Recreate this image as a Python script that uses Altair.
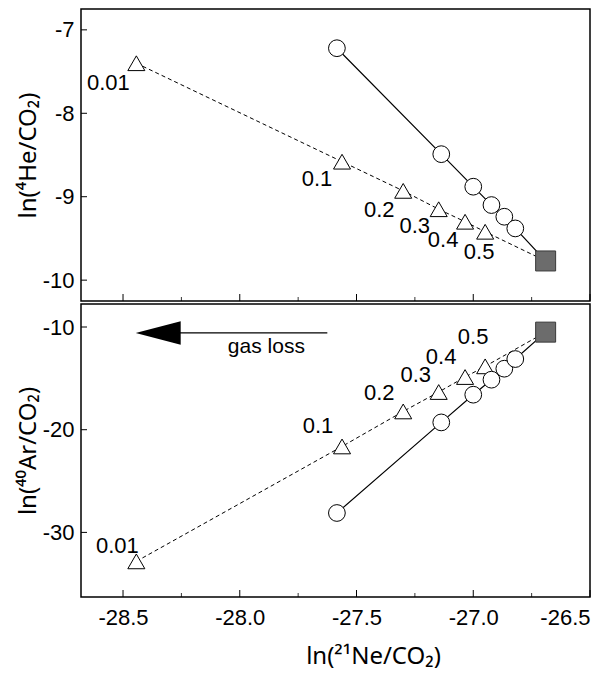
import altair as alt
import pandas as pd

# ---------------- data ----------------
labels = ["0.01", "0.1", "0.2", "0.3", "0.4", "0.5"]
tri_ne = [-28.443, -27.562, -27.300, -27.148, -27.035, -26.949]
circ_ne = [-27.584, -27.137, -27.000, -26.922, -26.867, -26.820]
sq_ne = -26.690

tri_he = [-7.40, -8.58, -8.93, -9.15, -9.30, -9.42]
circ_he = [-7.22, -8.49, -8.88, -9.10, -9.24, -9.38]
sq_he = -9.77

tri_ar = [-32.82, -21.63, -18.22, -16.33, -14.87, -13.83]
circ_ar = [-28.11, -19.29, -16.59, -15.13, -14.06, -13.12]
sq_ar = -10.50

x_major = [-28.5, -28.0, -27.5, -27.0, -26.5]
x_minor = [-28.25, -27.75, -27.25, -26.75]
he_ticks = [-7, -8, -9, -10]
ar_ticks = [-10, -20, -30]

arrow_ne = [-28.257, -27.625]   # shaft start / end
arrowhead_ne = -28.343
arrow_ar = -10.58
gasloss_ne = -27.886
gasloss_ar = -11.95

X_DOMAIN = [-28.68, -26.5]
HE_DOMAIN = [-10.25, -6.75]
AR_DOMAIN = [-36.29, -7.76]

W = 509
H1 = 292
H2 = 293
FONT = "Liberation Sans"
TFONT = "Noto Sans"
HYPHEN = "replace(datum.label, '\u2212', '-')"

# label offsets (style)
top_off = [(-28, 20), (-25, 17), (-24, 19), (-24, 17), (-22, 18), (-6, 20)]
bot_off = [(-19, -15), (-24, -20), (-24, -18), (-23, -17), (-24, -20), (-12, -29)]


def panel(yvals_tri, yvals_circ, ysq, ydomain, yticks, ytitle, height, offsets, show_x):
    xs = alt.Scale(domain=X_DOMAIN, nice=False, zero=False)
    ys = alt.Scale(domain=ydomain, nice=False, zero=False)
    if show_x:
        xaxis = alt.Axis(title="ln(²¹Ne/CO₂)", values=x_major, format=".1f", ticks=False,
                         domain=False, grid=False, labelPadding=10, titlePadding=16,
                         titleX=292, titleAlign="center", labelExpr=HYPHEN)
    else:
        xaxis = alt.Axis(title=None, labels=False, ticks=False, domain=False, grid=False)
    yaxis = alt.Axis(title=ytitle, values=yticks, format="d", ticks=False, domain=False,
                     grid=False, labelPadding=7, titlePadding=2, labelExpr=HYPHEN)

    tri_line_df = pd.DataFrame({"x": tri_ne + [sq_ne], "y": yvals_tri + [ysq],
                                "o": list(range(len(tri_ne) + 1))})
    circ_line_df = pd.DataFrame({"x": circ_ne + [sq_ne], "y": yvals_circ + [ysq],
                                 "o": list(range(len(circ_ne) + 1))})
    tri_df = pd.DataFrame({"x": tri_ne, "y": yvals_tri, "lab": labels})
    circ_df = pd.DataFrame({"x": circ_ne, "y": yvals_circ})
    sq_df = pd.DataFrame({"x": [sq_ne], "y": [ysq]})

    base_x = alt.X("x:Q", scale=xs, axis=xaxis)
    base_y = alt.Y("y:Q", scale=ys, axis=yaxis)

    dashed = alt.Chart(tri_line_df).mark_line(color="black", strokeWidth=1,
                                              strokeDash=[4, 3]).encode(
        x=base_x, y=base_y, order="o:Q")
    solid = alt.Chart(circ_line_df).mark_line(color="black", strokeWidth=1.2).encode(
        x="x:Q", y="y:Q", order="o:Q")
    tris = alt.Chart(tri_df).mark_point(shape="triangle-up", filled=True, fill="white",
                                        stroke="black", strokeWidth=1, opacity=1,
                                        size=290).encode(x="x:Q", y="y:Q")
    circs = alt.Chart(circ_df).mark_point(shape="circle", filled=True, fill="white",
                                          stroke="black", strokeWidth=1, opacity=1,
                                          size=280).encode(x="x:Q", y="y:Q")
    sq = alt.Chart(sq_df).mark_point(shape="square", filled=True, fill="#6c6c6c",
                                     stroke="#3a3a3a", strokeWidth=1, opacity=1,
                                     size=400).encode(x="x:Q", y="y:Q")

    layers = [dashed, solid, tris, circs, sq]

    for i, lab in enumerate(labels):
        dx, dy = offsets[i]
        ldf = pd.DataFrame({"x": [tri_ne[i]], "y": [yvals_tri[i]], "lab": [lab]})
        layers.append(alt.Chart(ldf).mark_text(font=FONT, fontSize=22, color="black",
                                               align="center", baseline="middle",
                                               dx=dx, dy=dy).encode(
            x="x:Q", y="y:Q", text="lab:N"))

    # inward ticks
    xmaj = pd.DataFrame({"x": x_major})
    xmin = pd.DataFrame({"x": x_minor})
    ytk = pd.DataFrame({"y": yticks})
    layers.append(alt.Chart(xmaj).mark_rule(color="black", strokeWidth=1).encode(
        x="x:Q", y=alt.value(height), y2=alt.value(height - 7)))
    layers.append(alt.Chart(xmin).mark_rule(color="black", strokeWidth=0.8).encode(
        x="x:Q", y=alt.value(height), y2=alt.value(height - 4)))
    layers.append(alt.Chart(ytk).mark_rule(color="black", strokeWidth=1).encode(
        y="y:Q", x=alt.value(0), x2=alt.value(6)))

    return layers


top_layers = panel(tri_he, circ_he, sq_he, HE_DOMAIN, he_ticks, "ln(⁴He/CO₂)", H1,
                   top_off, False)
bot_layers = panel(tri_ar, circ_ar, sq_ar, AR_DOMAIN, ar_ticks, "ln(⁴⁰Ar/CO₂)", H2,
                   bot_off, True)

# gas loss arrow
shaft_df = pd.DataFrame({"x": [arrow_ne[0]], "x2": [arrow_ne[1]], "y": [arrow_ar]})
head_df = pd.DataFrame({"x": [arrowhead_ne], "y": [arrow_ar]})
txt_df = pd.DataFrame({"x": [gasloss_ne], "y": [gasloss_ar], "t": ["gas loss"]})
bot_layers.append(alt.Chart(shaft_df).mark_rule(color="black", strokeWidth=1.3).encode(
    x="x:Q", x2="x2:Q", y="y:Q"))
bot_layers.append(alt.Chart(head_df).mark_point(
    shape="M-1,0L1,-0.525L1,0.525Z", filled=True, fill="black", stroke="black",
    opacity=1, size=1600).encode(x="x:Q", y="y:Q"))
bot_layers.append(alt.Chart(txt_df).mark_text(font=FONT, fontSize=21, color="black",
                                              align="center", baseline="middle").encode(
    x="x:Q", y="y:Q", text="t:N"))

top = alt.layer(*top_layers).properties(width=W, height=H1)
bot = alt.layer(*bot_layers).properties(width=W, height=H2)

chart = alt.vconcat(top, bot, spacing=0).properties(
    padding={"left": 7, "top": 0, "right": 0, "bottom": 0}, background="white"
).configure_view(
    stroke="black", strokeWidth=1.5
).configure_axis(
    labelFont=FONT, labelFontSize=22, labelColor="black",
    titleFont=TFONT, titleFontSize=24, titleFontWeight="normal", titleColor="black"
)

chart.save("out.html", embed_options={"renderer": "svg", "actions": False})
